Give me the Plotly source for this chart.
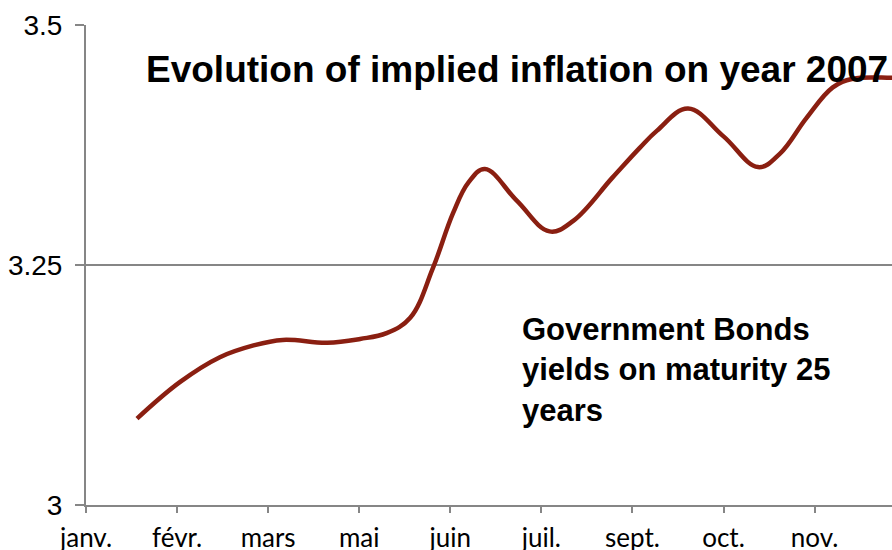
import plotly.graph_objects as go

# Data (x in category-tick units: 0 = janv., 1 = févr., ...)
x_vals = [0.56, 1.03, 1.47, 1.83, 2.16, 2.65, 3.01, 3.30, 3.56, 3.81, 4.03, 4.20, 4.38, 4.73,
          5.09, 5.35, 5.78, 6.08, 6.27, 6.61, 7.00, 7.38, 7.62, 7.91, 8.20, 8.42, 8.85, 9.0]
y_vals = [3.090, 3.128, 3.154, 3.166, 3.172, 3.169, 3.173, 3.179, 3.195, 3.247, 3.304, 3.336, 3.350, 3.317,
          3.285, 3.296, 3.341, 3.372, 3.390, 3.413, 3.384, 3.352, 3.366, 3.403, 3.435, 3.444, 3.445, 3.445]
tick_labels = ["janv.", "févr.", "mars", "mai", "juin", "juil.", "sept.", "oct.", "nov."]
y_ticks = [3, 3.25, 3.5]
y_tick_text = ["3", "3.25", "3.5"]

title_text = "Evolution of implied inflation on year 2007"
note_text = "Government Bonds<br>yields on maturity 25<br>years"

fig = go.Figure()
fig.add_trace(go.Scatter(
    x=x_vals, y=y_vals, mode="lines",
    line=dict(color="#8a1f11", width=4.5, shape="spline", smoothing=1.1),
    showlegend=False, hoverinfo="skip",
))

fig.update_layout(
    width=892, height=550,
    margin=dict(l=86, r=0, t=25, b=45),
    paper_bgcolor="white", plot_bgcolor="white",
    xaxis=dict(
        range=[0, 8.85], automargin=False,
        tickmode="array", tickvals=list(range(len(tick_labels))), ticktext=tick_labels,
        showgrid=False, zeroline=False,
        showline=True, linecolor="#868686", linewidth=2,
        ticks="outside", ticklen=6, tickwidth=1.5, tickcolor="#868686",
        ticklabelstandoff=3,
        tickfont=dict(family="Lato, Carlito, sans-serif", size=26, color="black"),
    ),
    yaxis=dict(
        range=[3, 3.5], automargin=False,
        tickmode="array", tickvals=y_ticks, ticktext=y_tick_text,
        showgrid=True, gridcolor="#868686", gridwidth=1.5,
        zeroline=False,
        showline=True, linecolor="#868686", linewidth=2,
        ticks="outside", ticklen=9, tickwidth=1.5, tickcolor="#868686",
        ticklabelstandoff=7,
        tickfont=dict(family="Liberation Sans, Arial, sans-serif", size=28, color="black"),
    ),
    annotations=[
        dict(text="<b>" + title_text + "</b>", xref="paper", yref="paper",
             x=0.072, y=0.908, xanchor="left", yanchor="middle", showarrow=False,
             font=dict(family="Liberation Sans, Arial, sans-serif", size=37, color="black")),
        dict(text="<b>" + note_text + "</b>", xref="paper", yref="paper",
             x=0.539, y=0.281, xanchor="left", yanchor="middle", align="left", showarrow=False,
             font=dict(family="Liberation Sans, Arial, sans-serif", size=31, color="black")),
    ],
)

fig.write_html("out.html")
